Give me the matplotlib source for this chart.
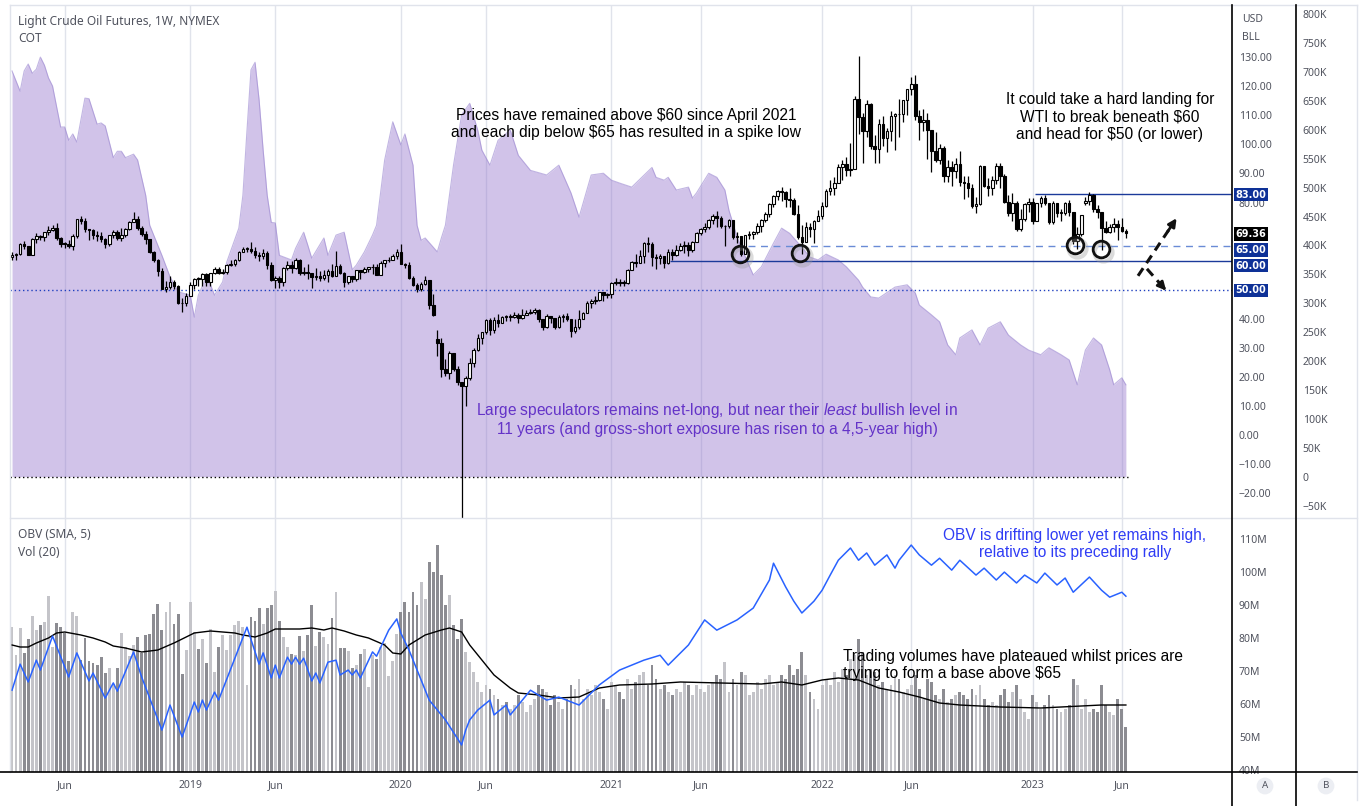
import numpy as np
import pandas as pd
import matplotlib
matplotlib.use("Agg")
import matplotlib.pyplot as plt
import matplotlib.transforms as mtransforms
from matplotlib.lines import Line2D

plt.rcParams.update({
    "font.family": "Noto Sans",
    "mathtext.fontset": "custom",
    "mathtext.rm": "Liberation Sans",
    "mathtext.it": "Liberation Sans:italic",
})

# ---------------- data (weekly, first bar = week of 2018-03-05) ----------------
first_week = "2018-03-05"
first_open = 61.2
closes = [
    62.0, 62.3, 65.9, 64.9, 62.1, 67.4, 68.4, 68.1, 69.7, 70.7,
    71.3, 67.9, 65.8, 65.7, 65.1, 68.6, 74.2, 73.8, 71.0, 70.5,
    68.7, 68.5, 67.6, 65.9, 68.7, 69.8, 67.8, 69.0, 70.8, 73.3,
    74.3, 71.3, 69.1, 67.6, 63.1, 60.2, 56.5, 50.4, 50.9, 52.6,
    51.2, 45.6, 45.3, 48.0,
    51.6, 53.8, 53.7, 55.3, 52.7, 55.6, 57.3, 55.8, 56.1, 58.5,
    59.0, 60.1, 63.1, 63.9, 64.0, 63.3, 61.9, 61.7, 62.8, 58.6,
    53.5, 54.0, 52.5, 57.4, 58.5, 57.5, 60.2, 55.6, 56.2, 55.7,
    54.5, 54.9, 54.2, 55.1, 56.5, 54.9, 58.1, 55.9, 52.8, 54.7,
    53.8, 56.7, 56.2, 57.2, 57.7, 58.0, 55.2, 59.2, 60.1, 60.4,
    61.7, 63.05,
    59.0, 58.5, 54.2, 51.6, 50.3, 52.05, 53.4, 44.8, 41.3, 31.7,
    22.6, 21.5, 28.3, 22.8, 18.3, 16.9, 19.8, 24.7, 29.4, 33.25,
    35.5, 39.55, 36.3, 39.75, 38.5, 40.65, 40.55, 40.6, 41.3, 40.3,
    41.2, 42.0, 42.3, 43.0, 39.8, 37.3, 41.1, 40.25, 37.05, 40.6,
    40.9, 39.85, 35.8, 37.1, 40.1, 42.15, 45.5, 46.3, 46.6, 49.1,
    48.2, 48.5,
    52.2, 52.4, 52.3, 52.2, 56.85, 59.5, 59.2, 61.5, 66.1, 65.6,
    61.4, 60.97, 61.45, 59.3, 63.1, 62.1, 63.6, 64.9, 65.4, 63.6,
    66.3, 69.6, 70.9, 71.6, 74.05, 75.2, 74.6, 71.8, 72.1, 73.95,
    68.3, 68.4, 62.3, 68.7, 69.3, 69.7, 71.97, 73.98, 75.9, 79.35,
    82.3, 83.8, 83.6, 81.3, 80.8, 76.1, 68.15, 66.3, 71.7, 70.9,
    73.8, 75.2,
    78.9, 83.8, 85.1, 86.8, 92.3, 93.1, 91.1, 91.6, 115.7, 109.3,
    104.7, 113.9, 99.3, 98.3, 106.95, 102.1, 104.7, 109.8, 110.5, 110.3,
    115.1, 118.9, 120.7, 109.6, 107.6, 108.4, 104.8, 97.6, 94.7, 98.6,
    89.0, 92.1, 90.8, 93.1, 86.9, 86.8, 85.1, 78.7, 79.5, 92.6,
    85.6, 85.05, 87.9, 92.6, 88.96, 80.1, 76.3, 79.98, 71.0, 74.3,
    79.6, 80.3,
    73.8, 79.9, 81.6, 79.7, 73.4, 79.7, 76.3, 76.3, 79.7, 76.7,
    66.7, 69.3, 75.7, 80.7, 82.5, 77.9, 76.8, 71.3, 70.0, 71.7,
    72.7, 71.7, 70.2, 69.36,
]
highs = [
    63.0, 62.6, 66.0, 66.7, 64.3, 67.7, 69.6, 69.0, 70.0, 71.9,
    72.3, 72.8, 68.2, 66.3, 67.1, 69.2, 74.5, 75.3, 74.6, 71.0,
    70.9, 70.3, 69.7, 67.7, 69.0, 70.4, 70.6, 71.4, 71.3, 73.7,
    76.9, 75.4, 72.1, 70.3, 67.6, 63.4, 60.7, 57.4, 52.9, 54.6,
    53.3, 51.7, 47.3, 48.8,
    52.8, 54.1, 54.3, 55.8, 55.6, 55.9, 57.8, 57.9, 57.0, 58.9,
    60.4, 60.7, 63.3, 64.8, 64.6, 66.6, 64.8, 63.0, 63.9, 63.4,
    59.6, 54.8, 54.8, 58.0, 60.0, 59.9, 60.9, 60.7, 57.9, 58.8,
    55.5, 57.5, 56.4, 56.9, 57.3, 58.8, 63.3, 59.0, 56.2, 54.9,
    54.6, 56.9, 56.9, 57.9, 57.9, 58.9, 58.7, 59.9, 60.3, 61.2,
    62.3, 64.1,
    65.65, 59.3, 59.7, 54.8, 52.2, 52.5, 54.7, 53.3, 48.7, 36.3,
    33.4, 26.2, 29.1, 28.4, 23.8, 18.3, 20.5, 26.7, 29.8, 34.7,
    35.6, 39.8, 40.4, 40.5, 41.6, 40.9, 41.3, 41.6, 42.5, 42.0,
    43.5, 43.0, 43.3, 43.8, 43.5, 39.8, 41.5, 41.1, 40.3, 41.4,
    41.5, 41.9, 39.8, 39.9, 43.0, 42.5, 46.3, 46.7, 47.7, 49.3,
    49.4, 49.0,
    52.75, 53.9, 53.6, 53.2, 57.0, 59.8, 62.3, 63.8, 66.4, 67.98,
    66.4, 62.3, 62.3, 61.6, 64.1, 64.0, 65.5, 66.0, 66.7, 66.5,
    66.7, 69.8, 71.2, 72.99, 74.25, 76.2, 76.98, 75.5, 72.3, 74.2,
    73.5, 69.7, 68.6, 69.0, 70.1, 70.3, 73.1, 74.3, 76.7, 79.8,
    82.6, 84.2, 85.4, 84.0, 84.97, 81.5, 79.2, 72.2, 73.3, 73.1,
    73.97, 77.4,
    80.2, 84.8, 87.9, 88.8, 93.2, 94.7, 95.8, 100.5, 116.6, 130.5,
    110.9, 115.4, 114.3, 103.2, 108.8, 109.8, 105.6, 111.4, 110.9, 115.6,
    115.3, 119.0, 123.2, 123.7, 111.9, 112.2, 110.9, 105.0, 104.2, 100.0,
    99.3, 94.6, 94.4, 95.2, 97.6, 89.3, 89.0, 86.4, 82.0, 92.9,
    92.6, 88.4, 89.1, 93.7, 93.7, 89.7, 82.5, 83.3, 80.5, 77.9,
    80.0, 81.5,
    81.5, 80.0, 82.4, 82.7, 79.9, 80.5, 80.0, 77.9, 80.2, 81.0,
    76.9, 71.7, 75.7, 81.8, 83.5, 82.8, 79.2, 76.4, 73.8, 72.6,
    74.7, 73.9, 74.7, 70.9,
]
lows = [
    60.1, 60.2, 61.8, 64.0, 61.8, 62.0, 66.2, 67.0, 66.9, 68.7,
    70.3, 67.0, 64.8, 64.2, 64.3, 63.6, 67.7, 72.7, 69.9, 67.0,
    67.3, 66.9, 66.3, 64.4, 65.0, 67.9, 67.0, 66.9, 68.2, 70.7,
    73.4, 70.4, 68.5, 65.7, 62.6, 59.5, 54.75, 50.2, 49.4, 50.1,
    50.3, 45.1, 42.4, 44.4,
    47.8, 50.4, 51.3, 51.3, 51.2, 51.2, 55.4, 55.3, 55.4, 55.4,
    58.3, 58.1, 60.0, 62.9, 63.1, 62.6, 60.9, 60.0, 60.6, 57.3,
    53.0, 50.6, 50.7, 51.3, 56.9, 55.9, 57.3, 55.2, 55.0, 53.6,
    50.5, 53.2, 53.1, 53.2, 52.8, 54.3, 57.1, 55.3, 50.99, 51.9,
    52.5, 53.0, 53.7, 55.6, 56.2, 55.3, 55.0, 55.3, 58.0, 59.7,
    60.4, 60.6,
    58.7, 57.4, 53.8, 51.3, 49.3, 49.6, 51.6, 43.3, 41.1, 27.3,
    20.1, 20.4, 19.3, 22.1, 17.3, -40.3, 10.1, 19.0, 23.4, 28.9,
    31.3, 34.8, 34.4, 35.1, 37.1, 38.7, 39.2, 39.2, 40.2, 38.7,
    40.0, 41.2, 41.5, 41.6, 38.9, 36.1, 36.8, 38.6, 36.6, 37.0,
    38.9, 39.1, 33.6, 35.0, 36.6, 39.8, 42.2, 43.9, 45.1, 46.3,
    46.2, 47.0,
    47.2, 51.8, 51.4, 51.3, 51.9, 56.8, 57.9, 59.3, 59.2, 63.1,
    58.3, 57.3, 58.9, 57.6, 59.0, 60.4, 61.6, 63.4, 62.6, 61.6,
    63.0, 66.6, 68.9, 70.0, 70.9, 72.6, 71.7, 71.2, 65.0, 71.1,
    67.3, 66.0, 61.7, 62.2, 67.6, 67.6, 69.3, 69.7, 73.2, 75.0,
    78.6, 81.0, 80.6, 78.3, 78.6, 75.6, 67.4, 62.4, 66.3, 68.3,
    66.0, 73.7,
    74.3, 78.5, 82.5, 82.7, 86.6, 87.7, 89.0, 89.0, 91.6, 103.5,
    93.5, 102.7, 98.4, 93.5, 93.6, 99.4, 97.4, 101.0, 98.2, 102.7,
    107.6, 110.0, 117.1, 108.3, 101.5, 104.6, 95.1, 90.6, 93.8, 93.4,
    87.0, 87.1, 85.7, 88.6, 85.7, 81.2, 82.0, 78.0, 76.25, 79.3,
    85.2, 82.1, 82.5, 86.3, 85.0, 79.8, 75.3, 73.6, 70.1, 70.3,
    73.6, 76.8,
    72.7, 73.9, 78.6, 79.1, 72.5, 72.6, 75.1, 73.8, 75.7, 75.2,
    65.6, 64.1, 68.5, 79.0, 79.2, 76.9, 74.8, 63.6, 69.4, 69.4,
    70.0, 67.0, 69.8, 67.9,
]
# weeks that opened away from the prior close (gaps)
open_gaps = {105: 33.0, 265: 80.0}

# weekly volume, million contracts
volumes = [
    4.35, 3.51, 4.32, 3.57, 3.99, 4.68, 4.26, 4.41, 4.50, 5.28,
    3.75, 4.47, 4.35, 4.17, 3.33, 4.80, 4.68, 3.36, 4.02, 3.33,
    3.27, 3.21, 3.45, 2.97, 3.12, 2.64, 3.12, 4.17, 3.75, 3.48,
    3.81, 4.05, 3.57, 4.11, 4.14, 4.74, 5.04, 4.26, 4.80, 5.10,
    4.44, 4.74, 2.94, 3.66,
    5.10, 4.20, 3.69, 3.99, 3.27, 4.29, 3.00, 3.75, 4.11, 3.66,
    4.11, 4.41, 4.53, 4.35, 2.61, 4.65, 4.53, 4.92, 4.44, 4.92,
    5.01, 5.43, 4.53, 4.05, 3.75, 3.54, 3.51, 4.08, 3.63, 4.11,
    5.01, 3.78, 4.20, 4.05, 3.84, 4.62, 5.40, 3.72, 3.72, 3.63,
    3.12, 3.21, 3.54, 3.69, 2.55, 3.51, 3.39, 3.75, 3.87, 2.88,
    3.33, 4.14,
    4.80, 5.10, 4.80, 5.40, 5.00, 5.70, 5.20, 6.30, 6.00, 6.80,
    5.90, 5.00, 5.30, 4.40, 4.00, 4.60, 3.60, 3.30, 3.00, 2.70,
    2.40, 2.60, 2.50, 2.30, 2.20, 2.00, 2.10, 1.90, 2.00, 2.30,
    2.10, 1.80, 2.00, 2.20, 2.60, 2.50, 2.40, 2.00, 2.30, 2.10,
    1.90, 2.20, 2.60, 2.50, 2.80, 2.20, 2.50, 2.30, 2.60, 2.40,
    2.20, 1.90,
    2.70, 2.60, 2.40, 2.20, 2.80, 2.50, 2.70, 2.90, 3.00, 2.60,
    3.20, 2.80, 2.50, 2.60, 2.40, 2.30, 2.50, 2.40, 2.70, 2.60,
    2.30, 2.60, 2.50, 2.40, 2.60, 2.70, 2.90, 2.80, 3.30, 2.40,
    2.80, 2.60, 3.00, 2.90, 2.30, 2.40, 2.70, 2.50, 2.80, 2.90,
    2.60, 2.70, 2.90, 2.80, 3.20, 2.90, 3.10, 3.60, 2.90, 2.40,
    2.20, 1.90,
    2.60, 2.80, 2.60, 3.00, 2.70, 3.10, 2.90, 3.40, 3.50, 4.00,
    3.60, 2.90, 3.10, 3.00, 2.60, 2.70, 2.50, 2.60, 2.90, 2.80,
    2.40, 2.50, 2.60, 2.90, 2.50, 2.20, 2.80, 2.70, 2.30, 2.20,
    2.50, 2.10, 2.20, 2.30, 2.40, 2.30, 2.20, 2.50, 2.30, 2.60,
    2.20, 2.00, 2.10, 2.00, 2.30, 2.50, 2.10, 2.40, 2.60, 2.20,
    1.80, 1.60,
    2.30, 2.10, 1.90, 2.00, 2.30, 2.00, 1.90, 1.80, 1.90, 2.00,
    2.80, 2.60, 1.90, 2.20, 1.80, 1.90, 1.80, 2.60, 2.00, 1.80,
    1.70, 2.20, 1.90, 1.35,
]

# 20-week volume average (million contracts)
vol_sma_weeks = [0, 2, 4, 6, 9, 11, 13, 17, 20, 23, 25, 28, 32, 36, 40, 45, 49, 55, 57, 60,
                 63, 65, 71, 74, 77, 79, 82, 85, 88, 92, 94, 96, 98, 102, 106, 108, 111, 113,
                 116, 119, 123, 125, 130, 135, 140, 145, 150, 158, 165, 175, 185, 190, 195,
                 200, 204, 209, 214, 219, 224, 229, 234, 244, 254, 264, 269, 275]
vol_sma_values = [3.81, 3.75, 3.75, 3.87, 4.02, 4.17, 4.20, 4.11, 4.02, 3.90, 3.78, 3.72,
                  3.60, 3.66, 3.87, 4.17, 4.23, 4.17, 4.11, 4.05, 4.17, 4.29, 4.29, 4.32,
                  4.26, 4.32, 4.23, 4.11, 4.02, 3.81, 3.57, 3.54, 3.81, 4.11, 4.26, 4.32,
                  4.20, 3.81, 3.36, 2.91, 2.52, 2.37, 2.31, 2.22, 2.25, 2.52, 2.61, 2.64,
                  2.70, 2.67, 2.64, 2.70, 2.61, 2.76, 2.82, 2.76, 2.52, 2.40, 2.25, 2.07,
                  2.01, 1.95, 1.92, 1.98, 2.01, 2.01]

# OBV (SMA 5), millions
obv_weeks = [0, 2, 4, 6, 7, 10, 14, 16, 19, 20, 23, 25, 26, 30, 32, 37, 39, 42, 45, 46,
             47, 48, 50, 51, 58, 61, 62, 64, 65, 66, 68, 69, 70, 71, 72, 74, 75, 76, 78,
             80, 81, 83, 84, 85, 86, 89, 90, 93, 95, 96, 98, 101, 103, 107, 111, 112, 113,
             115, 118, 119, 122, 123, 128, 132, 135, 140, 145, 150, 156, 160, 162, 167,
             171, 174, 179, 183, 187, 188, 191, 193, 195, 198, 200, 202, 204, 207, 209,
             211, 213, 216, 218, 219, 222, 224, 227, 229, 232, 234, 238, 240, 243, 245,
             248, 250, 253, 255, 258, 260, 262, 266, 269, 271, 274, 275]
obv_values = [64.2, 72.1, 66.7, 73.3, 70.3, 80.6, 68.2, 75.5, 67.0, 69.4, 61.8, 66.4,
              63.9, 75.8, 68.2, 52.1, 59.7, 50.0, 60.6, 57.6, 61.2, 58.2, 63.6, 61.2,
              83.3, 72.1, 75.5, 67.9, 71.8, 67.9, 74.2, 72.1, 74.2, 72.1, 73.9, 67.0,
              69.4, 66.4, 72.7, 73.3, 68.8, 70.3, 68.8, 70.3, 67.9, 75.8, 74.5, 82.4,
              85.8, 81.5, 76.4, 67.3, 61.2, 55.2, 47.6, 52.1, 55.2, 58.2, 61.2, 56.7,
              59.7, 56.7, 64.2, 61.2, 62.1, 59.7, 65.8, 70.3, 73.3, 74.8, 71.8, 77.9,
              85.5, 82.4, 85.5, 89.1, 97.6, 102.7, 95.5, 91.2, 87.6, 91.2, 94.5, 99.1,
              103.6, 107.3, 103.6, 105.8, 102.1, 105.2, 101.2, 103.6, 108.2, 105.2,
              102.1, 104.2, 100.6, 103.6, 99.1, 101.2, 97.6, 100.0, 96.7, 99.1, 96.7,
              99.7, 96.1, 98.2, 93.9, 98.5, 94.5, 92.4, 93.9, 92.7]

# COT large speculators net position, thousand contracts
cot_weeks = [0, 2, 3, 4, 5, 6, 7, 8, 9, 10, 11, 12, 13, 14, 15, 16, 18, 19, 21, 22, 23,
             25, 26, 27, 28, 30, 31, 33, 34, 37, 39, 41, 44, 45, 46, 48, 49, 50, 52, 53,
             56, 57, 58, 59, 60, 61, 62, 63, 64, 65, 66, 69, 70, 72, 73, 74, 77, 78, 80,
             82, 84, 85, 87, 89, 90, 92, 94, 96, 97, 99, 100, 101, 102, 105, 106, 107,
             109, 111, 113, 115, 116, 118, 120, 123, 125, 128, 132, 135, 138, 140, 143,
             146, 148, 150, 153, 158, 159, 161, 162, 164, 167, 168, 169, 172, 174, 176,
             177, 179, 180, 183, 185, 188, 190, 192, 195, 197, 199, 201, 204, 206, 209,
             210, 212, 214, 218, 221, 223, 224, 227, 229, 231, 233, 234, 237, 239, 241,
             244, 246, 249, 251, 254, 256, 259, 261, 263, 265, 267, 269, 271, 272, 274,
             275]
cot_values = [702, 667, 702, 714, 698, 705, 726, 712, 690, 676, 640, 605, 605, 582, 593,
              579, 655, 654, 610, 612, 607, 552, 563, 563, 552, 558, 548, 487, 435, 383,
              346, 320, 314, 276, 314, 346, 332, 314, 337, 371, 430, 487, 598, 704, 717,
              652, 565, 487, 440, 439, 383, 375, 395, 423, 401, 378, 413, 383, 418, 423,
              358, 366, 389, 418, 435, 548, 614, 574, 593, 539, 435, 409, 413, 389, 413,
              435, 539, 626, 646, 599, 565, 539, 582, 600, 556, 530, 522, 539, 491, 449,
              522, 525, 513, 508, 501, 535, 518, 513, 518, 496, 501, 482, 491, 525, 518,
              496, 461, 415, 397, 349, 363, 404, 430, 421, 397, 380, 375, 385, 375, 363,
              340, 328, 311, 309, 328, 332, 318, 297, 280, 268, 228, 211, 240, 254, 228,
              257, 268, 245, 228, 219, 211, 223, 211, 202, 159, 219, 240, 228, 185, 159,
              171, 159]

level_83, level_65, level_60, level_50 = 83.0, 65.0, 60.0, 50.0
last_price = 69.36
spike_low_weeks = [179.8, 194.6, 262.5, 268.9]
spike_low_prices = [62.3, 62.7, 65.4, 64.1]

# ---------------- figure ----------------
W, H = 1366, 806
fig = plt.figure(figsize=(W / 100, H / 100), dpi=100, facecolor="white")


def box(x0, y0, x1, y1):
    return [x0 / W, 1 - y1 / H, (x1 - x0) / W, (y1 - y0) / H]


def fline(x0, y0, x1, y1, **kw):
    fig.add_artist(Line2D([x0 / W, x1 / W], [1 - y0 / H, 1 - y1 / H],
                          transform=fig.transFigure, **kw))


n = len(closes)
x = np.arange(n)
dates = pd.date_range(first_week, periods=n, freq="W-MON")
opens = [first_open] + closes[:-1]
for k, v in open_gaps.items():
    opens[k] = v
opens = np.array(opens)
c = np.array(closes)
up = c >= opens
XMIN, XMAX = -0.5, 301.2

tick_idx, tick_lab = [], []
for i in range(1, n):
    if dates[i].month != dates[i - 1].month and dates[i].month in (1, 6):
        tick_idx.append(i)
        tick_lab.append(str(dates[i].year) if dates[i].month == 1 else "Jun")

GRID = "#e0e3eb"
TXT = "#50535e"

ax_cot = fig.add_axes(box(10, 6, 1232, 518))
ax_p = ax_cot.twinx()
ax_vol = fig.add_axes(box(10, 518, 1232, 772))
ax_obv = ax_vol.twinx()

for a in (ax_cot, ax_p, ax_vol, ax_obv):
    a.set_xlim(XMIN, XMAX)
    for s in a.spines.values():
        s.set_visible(False)

# COT area
ax_cot.set_xticks(tick_idx)
ax_cot.tick_params(axis="x", length=0, labelbottom=False)
ax_cot.grid(axis="x", color=GRID, lw=1)
ax_cot.set_axisbelow(True)
ax_cot.fill_between(cot_weeks, cot_values, 0, color="#9575cd", alpha=0.43, lw=0)
ax_cot.plot(cot_weeks, cot_values, color="#9a86d0", lw=0.8, alpha=0.6)
ax_cot.hlines(0, XMIN, n - 0.5, colors="black", linestyles=(0, (1, 2)), lw=1)
ax_cot.set_ylim(-71.5, 814.4)
ax_cot.yaxis.tick_right()
cot_ticks = list(range(-50, 801, 50))
ax_cot.set_yticks(cot_ticks)
ax_cot.set_yticklabels([("%dK" % v).replace("-", "\u2212") if v else "0" for v in cot_ticks])
ax_cot.tick_params(axis="y", length=0, pad=51, labelsize=7.5, labelcolor=TXT)

# price candles
ax_p.set_ylim(-28.5, 147.6)
ax_p.yaxis.tick_right()
p_ticks = list(range(-20, 131, 10))
covered = (50, 60, 70)  # these axis labels sit under the level boxes
ax_p.set_yticks(p_ticks)
ax_p.set_yticklabels(["" if v in covered else ("%.2f" % v).replace("-", "\u2212")
                      for v in p_ticks])
ax_p.tick_params(axis="y", length=0, pad=5, labelsize=7.5, labelcolor=TXT)
ax_p.vlines(x, lows, highs, color="black", lw=0.9, zorder=2)
body_lo = np.minimum(opens, c)
body_h = np.maximum(np.abs(c - opens), 0.3)
ax_p.bar(x, body_h, bottom=body_lo, width=0.64,
         color=np.where(up, "white", "black"), edgecolor="black", lw=0.8, zorder=3)

ax_p.hlines(level_83, 252.6, XMAX, color="#1b3a9a", lw=1, zorder=1)
ax_p.hlines(level_60, 162.5, XMAX, color="#1b3a9a", lw=1, zorder=1)
ax_p.hlines(level_65, 181.7, XMAX, color="#6a8bd6", lw=1, linestyles=(0, (5, 4)), zorder=1)
ax_p.hlines(level_50, XMIN, XMAX, color="#1f3fbf", lw=1, linestyles=(0, (1, 2)), zorder=1)

# circled spike lows with a soft shadow
shadow = mtransforms.offset_copy(ax_p.transData, fig=fig, x=1.5, y=-2.5, units="points")
ax_p.plot(spike_low_weeks, spike_low_prices, "o", ms=13, mfc="none", mec="#9a9a9a",
          mew=3, alpha=0.35, transform=shadow, zorder=4)
ax_p.plot(spike_low_weeks, spike_low_prices, "o", ms=12, mfc="none", mec="#111111",
          mew=2, zorder=4)

# dashed scenario arrows
for (x0, y0), (x1, y1) in [((278.0, 54.8), (287.9, 75.4)), ((280.2, 57.2), (285.4, 49.0))]:
    ax_p.plot([x0, x0 + 0.8 * (x1 - x0)], [y0, y0 + 0.8 * (y1 - y0)], color="#111111",
              lw=2.2, ls=(0, (3, 2)), zorder=4)
    ax_p.annotate("", xy=(x1, y1), xytext=(x0 + 0.7 * (x1 - x0), y0 + 0.7 * (y1 - y0)),
                  arrowprops=dict(arrowstyle="-|>", color="#111111", lw=2,
                                  mutation_scale=12), zorder=4)

# price boxes on the axis (offsets keep the stacked boxes apart)
blue = "#0e3197"
for val, dy, fc in [(level_83, -0.5, blue), (last_price, -0.5, "black"), (level_65, -2.7, blue),
                    (level_60, -3.5, blue), (level_50, -0.5, blue)]:
    ax_p.annotate("%.2f" % val, xy=(1, val), xycoords=("axes fraction", "data"),
                  xytext=(2.5, dy), textcoords="offset points", ha="left", va="center",
                  family="DejaVu Sans", fontsize=7, fontweight="bold", color="white",
                  annotation_clip=False,
                  bbox=dict(boxstyle="square,pad=0.18", fc=fc, ec="none"), zorder=10)

# volume panel
ax_vol.set_xticks(tick_idx)
ax_vol.set_xticklabels(tick_lab)
ax_vol.tick_params(axis="x", length=0, pad=6, labelsize=7.5, labelcolor=TXT)
ax_vol.grid(axis="x", color=GRID, lw=1)
ax_vol.set_axisbelow(True)
ax_vol.set_yticks([])
ax_vol.set_ylim(0, 7.62)
ax_vol.bar(x, volumes, width=0.7, color=np.where(up, "#c4c4c9", "#8c8c92"), lw=0)
ax_vol.plot(vol_sma_weeks, vol_sma_values, color="black", lw=1)

ax_obv.set_ylim(39.4, 116.4)
ax_obv.yaxis.tick_right()
o_ticks = list(range(40, 111, 10))
ax_obv.set_yticks(o_ticks)
ax_obv.set_yticklabels(["%dM" % v for v in o_ticks])
ax_obv.tick_params(axis="y", length=0, pad=5, labelsize=7.5, labelcolor=TXT)
ax_obv.plot(obv_weeks, obv_values, color="#2962ff", lw=1.1)

# frame / separators
fline(10, 5, 1357, 5, color=GRID, lw=1)
fline(1357, 5, 1357, 800, color=GRID, lw=1)
fline(10, 5, 10, 772, color=GRID, lw=1)
fline(10, 518, 1357, 518, color=GRID, lw=1)
fline(0, 772, 1357, 772, color="black", lw=1.2)
fline(1232, 5, 1232, 806, color="black", lw=1.2)
fline(1296, 5, 1296, 806, color="black", lw=1.2)


# legends / labels
def ftext(px, py, s, **kw):
    fig.text(px / W, 1 - py / H, s, **kw)


ftext(18, 21, "Light Crude Oil Futures, 1W, NYMEX", fontsize=8.6, color=TXT, va="center")
ftext(18, 38, "COT", fontsize=8.6, color=TXT, va="center")
ftext(18, 535, "OBV (SMA, 5)", fontsize=8.6, color=TXT, va="center")
ftext(18, 552, "Vol (20)", fontsize=8.6, color=TXT, va="center")
ftext(1242, 19, "USD", fontsize=7.5, color=TXT, va="center")
ftext(1242, 37, "BLL", fontsize=7.5, color=TXT, va="center")
for px, s in [(1265, "A"), (1326, "B")]:
    ftext(px, 786, s, fontsize=7, color=TXT, ha="center", va="center",
          bbox=dict(boxstyle="circle,pad=0.4", fc="#eceef3", ec="none"))

note = dict(family="Liberation Sans", fontsize=11.2, va="center", linespacing=1.17)
ftext(626, 124, "Prices have remained above \\$60 since April 2021\n"
      "and each dip below \\$65 has resulted in a spike low",
      ha="center", color="black", **note)
ftext(1110, 117, "It could take a hard landing for\nWTI to break beneath \\$60\n"
      "and head for \\$50 (or lower)", ha="center", color="black", **note)
ftext(717, 419, "Large speculators remains net-long, but near their $\\mathit{least}$ bullish level in\n"
      "11 years (and gross-short exposure has risen to a 4,5-year high)",
      ha="center", color="#6433c8", **note)
ftext(1075, 544, "OBV is drifting lower yet remains high,\nrelative to its preceding rally",
      ha="center", color="#2f3cf5", **note)
ftext(843, 665, "Trading volumes have plateaued whilst prices are\ntrying to form a base above \\$65",
      ha="left", color="black", **note)

fig.savefig("out.png", dpi=100, facecolor=fig.get_facecolor())
